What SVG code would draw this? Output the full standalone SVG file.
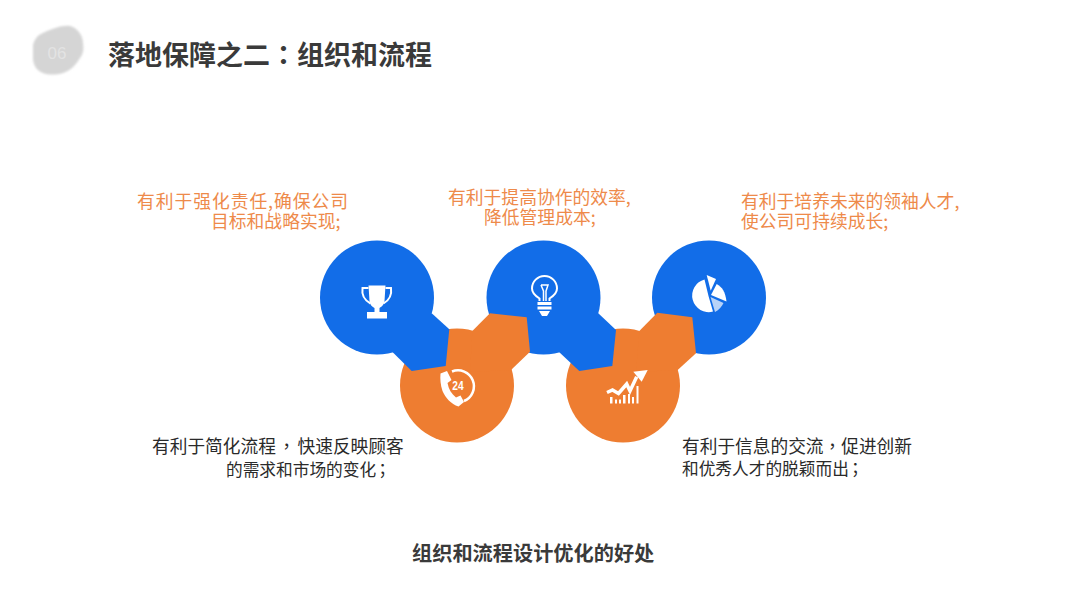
<svg xmlns="http://www.w3.org/2000/svg" width="1080" height="608" viewBox="0 0 1080 608">
<defs><filter id="soft" x="-10%" y="-10%" width="120%" height="120%"><feGaussianBlur stdDeviation="0.800"/></filter></defs>
<style>
text{font-family:"Noto Sans CJK SC","Liberation Sans",sans-serif}
.p{font-family:"Noto Sans CJK TC","Noto Sans CJK SC",sans-serif}
.o{fill:#ee8a4a;font-size:17.800px}
.k{fill:#2a2a2a;font-size:17.700px}
.k2{fill:#2a2a2a;font-size:16.700px}
.b{fill:#126de8}
.r{fill:#ee7d31}
.w{fill:#fff}
.ws{fill:none;stroke:#fff}
</style>
<rect width="1080" height="608" fill="#fff"/>
<g id="badge">
<path filter="url(#soft)" d="M33 45C35 38 38 35 43 33C52 29 62 25 70 26C78 28 83 36 83 43C84 50 83 54 80 58C76 65 70 71 63 73C56 75 48 75 43 73C37 71 33 65 33 58Z" fill="#d5d5d5"/>
<text x="57" y="59" text-anchor="middle" style="font-family:'Liberation Sans',sans-serif;font-size:17px" fill="#e3e3e3">06</text>
</g>
<text id="title" x="108" y="65" font-size="27" font-weight="700" fill="#3a3a3a">落地保障之二<tspan class="p">：</tspan>组织和流程</text>

<g id="connectors">
<circle class="b" cx="377" cy="297.500" r="57"/>
<circle class="r" cx="457" cy="385.500" r="57"/>
<circle class="b" cx="543.500" cy="297.500" r="57"/>
<circle class="r" cx="623" cy="385.500" r="57"/>
<circle class="b" cx="709" cy="297.500" r="57"/>
<path class="b" d="M431.700 313.300L449.300 329.300L445.700 366L411.700 371L392.700 352.300Z"/>
<path class="r" d="M472.300 331L490 313.300L526.700 317.300L530 351.700L511 370L470 372Z"/>
<path class="b" d="M598.300 313.300L616 330L612.300 366L579.300 371L559.300 352.300Z"/>
<path class="r" d="M639.300 331L657.300 312.700L692.300 317.300L696 353.300L677.700 370L636 372Z"/>
</g>

<g id="node-trophy">
<path class="w" d="M368.500 285.500H385.500L384.500 301C384 305 381 307 379.500 308V312H387V318.500H367V312H374.500V308C372.500 307 370 305 369.500 301Z"/>
<path class="ws" stroke-width="2" d="M368.500 288H362.500C361.500 295 364 300 370.500 303.500M385.500 288H391C392 295 389.500 300 383.500 303.500"/>
</g>
<g id="node-phone">
<path class="w" d="M440.500 373.500L447 371L451.500 380L447.500 383C448.500 389 451.500 394 456 397.500L460.500 395.500L464 402L458.500 406.500C451 404 445.500 398 442.500 391C440.500 385 440 379 440.500 373.500Z"/>
<path class="ws" stroke-width="2.500" d="M452 371.500A15.500 15.500 0 0 1 464 401"/>
<text x="458" y="390.500" text-anchor="middle" fill="#fff" font-size="12" font-weight="700" style="font-family:'Liberation Sans',sans-serif" transform="translate(458 0) scale(0.85 1) translate(-458 0)">24</text>
</g>
<g id="node-bulb">
<path class="ws" stroke-width="2" d="M539.500 301V298.500C535.500 296 532 293 532 288.500A12.500 12.500 0 0 1 557 288.500C557 293 553.500 296 549.500 298.500V301"/>
<path class="ws" stroke-width="1.500" d="M541 285H548L546 291V301M541 285L543.500 291V301"/>
<path class="w" d="M537.500 302H551.500V305H537.500ZM537.500 306.500H551.500V309.500H537.500ZM539 311H550L547 316H542Z"/>
</g>
<g id="node-pie">
<path class="w" d="M704.500 279.500A16.600 16.600 0 1 0 713 311.600L708.500 296Z"/>
<path class="w" d="M706.700 275L716 279L710.700 290.700Z"/>
<path class="w" d="M716.700 284C722 287 725.500 292 726.500 301.500L711 295Z"/>
<path class="w" fill-opacity="0.700" d="M710.500 297L723.500 303C722 306 719 310 715 312Z"/>
</g>
<g id="node-chart">
<path class="ws" stroke-width="3.500" d="M607 392.500L612.500 390L618.500 393.500L626.700 384L630 391L636.700 376.700"/>
<path class="w" d="M633.300 371.700L647.700 370L641.700 381.700Z"/>
<path class="w" d="M610 397H612.500V403.500H610ZM615 399.500H617V403.500H615ZM619 399.500H621V403.500H619ZM623 395H625.500V403.500H623ZM628 394H630V403.500H628ZM632 397H634V403.500H632ZM636.500 386H638.500V403.500H636.500Z"/>
</g>

<g id="labels">
<text class="o" x="137" y="208" style="letter-spacing:0.950px">有利于强化责任,确保公司</text>
<text class="o" x="211" y="228">目标和战略实现;</text>
<text class="o" x="448" y="204">有利于提高协作的效率,</text>
<text class="o" x="484" y="224">降低管理成本;</text>
<text class="o" x="741" y="208">有利于培养未来的领袖人才,</text>
<text class="o" x="741" y="228">使公司可持续成长;</text>
<text class="k" x="152" y="453">有利于简化流程<tspan class="p" dx="2">，</tspan><tspan dx="2">快速反映顾客</tspan></text>
<text class="k2" x="226" y="476">的需求和市场的变化<tspan class="p" dx="-2">；</tspan></text>
<text class="k" x="682" y="453">有利于信息的交流<tspan class="p">，</tspan>促进创新</text>
<text class="k2" x="682" y="475">和优秀人才的脱颖而出<tspan class="p" dx="-2">；</tspan></text>
<text x="412" y="561" font-size="20.200" font-weight="700" fill="#3a3a3a">组织和流程设计优化的好处</text>
</g>
</svg>
